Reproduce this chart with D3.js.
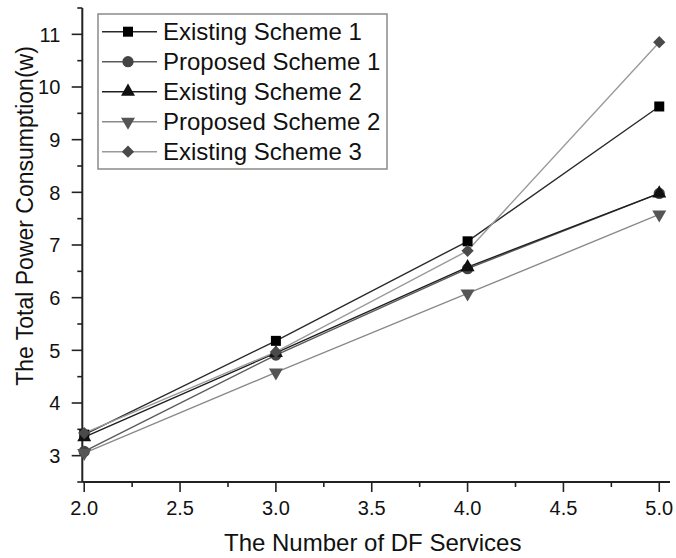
<!DOCTYPE html>
<html>
<head>
<meta charset="utf-8">
<script src="https://cdn.jsdelivr.net/npm/d3@7"></script>
<style>
  html, body { margin: 0; padding: 0; background: #fff; }
  svg { display: block; }
  text { font-family: "Liberation Sans", Arial, sans-serif; fill: #111; }
</style>
</head>
<body>
<svg id="chart" width="676" height="558"></svg>
<script>
// ---- data ----
const xValues = [2, 3, 4, 5];
const seriesNames = ["Existing Scheme 1", "Proposed Scheme 1", "Existing Scheme 2", "Proposed Scheme 2", "Existing Scheme 3"];
const existing1 = [3.40, 5.18, 7.07, 9.63];
const proposed1 = [3.08, 4.91, 6.55, 7.98];
const existing2 = [3.35, 4.95, 6.58, 7.98];
const proposed2 = [3.05, 4.58, 6.08, 7.58];
const existing3 = [3.43, 4.97, 6.89, 10.85];
const xTicks = [2.0, 2.5, 3.0, 3.5, 4.0, 4.5, 5.0];
const yTicks = [3, 4, 5, 6, 7, 8, 9, 10, 11];
const xTitle = "The Number of DF Services";
const yTitle = "The Total Power Consumption(w)";

// ---- styles ----
const styles = [
  { line: "#2a2a2a", fill: "#000000", shape: d3.symbolSquare, size: 100 },
  { line: "#5a5a5a", fill: "#444444", shape: d3.symbolCircle, size: 100 },
  { line: "#1e1e1e", fill: "#111111", shape: d3.symbolTriangle, size: 85 },
  { line: "#8a8a8a", fill: "#555555", shape: d3.symbolTriangle, size: 85, rotate: 180 },
  { line: "#9a9a9a", fill: "#4a4a4a", shape: d3.symbolSquare, size: 75, rotate: 45 }
];
const series = [existing1, proposed1, existing2, proposed2, existing3];

const svg = d3.select("#chart");
const x = d3.scaleLinear().domain([1.99, 5.056]).range([82.3, 670]);
const y = d3.scaleLinear().domain([2.5, 11.5]).range([482, 8]);

const axisColor = "#222";

// Axes
const xAxisG = svg.append("g").attr("transform", "translate(0,482)");
xAxisG.append("line").attr("x1", x.range()[0]).attr("x2", x.range()[1])
  .attr("stroke", axisColor).attr("stroke-width", 2);
const xMinor = d3.range(2.25, 5.0, 0.5);
xAxisG.selectAll(".xmin").data(xMinor).join("line")
  .attr("x1", d => x(d)).attr("x2", d => x(d)).attr("y1", 0).attr("y2", 5)
  .attr("stroke", axisColor).attr("stroke-width", 1.6);
xAxisG.selectAll(".xmaj").data(xTicks).join("line")
  .attr("x1", d => x(d)).attr("x2", d => x(d)).attr("y1", 0).attr("y2", 10)
  .attr("stroke", axisColor).attr("stroke-width", 1.6);
xAxisG.selectAll(".xlab").data(xTicks).join("text")
  .attr("x", d => x(d)).attr("y", 19).attr("dy", "0.71em")
  .attr("text-anchor", "middle").attr("font-size", 20)
  .text(d => d3.format(".1f")(d));

const yAxisG = svg.append("g").attr("transform", "translate(82.3,0)");
yAxisG.append("line").attr("y1", y.range()[0]).attr("y2", y.range()[1])
  .attr("stroke", axisColor).attr("stroke-width", 2);
const yMinor = d3.range(2.5, 11.6, 1);
yAxisG.selectAll(".ymin").data(yMinor).join("line")
  .attr("y1", d => y(d)).attr("y2", d => y(d)).attr("x1", 0).attr("x2", -5)
  .attr("stroke", axisColor).attr("stroke-width", 1.6);
yAxisG.selectAll(".ymaj").data(yTicks).join("line")
  .attr("y1", d => y(d)).attr("y2", d => y(d)).attr("x1", 0).attr("x2", -10.6)
  .attr("stroke", axisColor).attr("stroke-width", 1.6);
yAxisG.selectAll(".ylab").data(yTicks).join("text")
  .attr("x", -22).attr("y", d => y(d)).attr("dy", "0.36em")
  .attr("text-anchor", "end").attr("font-size", 20)
  .text(d => d);

// Titles
svg.append("text").attr("x", 372.7).attr("y", 551)
  .attr("text-anchor", "middle").attr("font-size", 24).text(xTitle);
svg.append("text")
  .attr("transform", "translate(33,216) rotate(-90)")
  .attr("text-anchor", "middle").attr("font-size", 23).text(yTitle);

// Lines and markers
const lineGen = d3.line().x((d, i) => x(xValues[i])).y(d => y(d));
series.forEach((vals, si) => {
  const st = styles[si];
  svg.append("path").datum(vals).attr("d", lineGen)
    .attr("fill", "none").attr("stroke", st.line).attr("stroke-width", 1.4);
});
series.forEach((vals, si) => {
  const st = styles[si];
  const sym = d3.symbol().type(st.shape).size(st.size);
  svg.selectAll(null).data(vals).join("path")
    .attr("d", sym)
    .attr("transform", (d, i) => `translate(${x(xValues[i])},${y(d)})` + (st.rotate ? ` rotate(${st.rotate})` : ""))
    .attr("fill", st.fill);
});

// Legend
const leg = svg.append("g");
leg.append("rect").attr("x", 98).attr("y", 14).attr("width", 289).attr("height", 155)
  .attr("fill", "#fff").attr("stroke", "#8a8a8a").attr("stroke-width", 1.5);
seriesNames.forEach((name, i) => {
  const st = styles[i];
  const cy = 31.7 + i * 30;
  leg.append("line").attr("x1", 102).attr("x2", 157).attr("y1", cy).attr("y2", cy)
    .attr("stroke", st.line).attr("stroke-width", 1.4);
  leg.append("path").attr("d", d3.symbol().type(st.shape).size(st.size))
    .attr("transform", `translate(128,${cy})` + (st.rotate ? ` rotate(${st.rotate})` : ""))
    .attr("fill", st.fill);
  leg.append("text").attr("x", 163).attr("y", cy).attr("dy", "0.36em")
    .attr("font-size", 24).text(name);
});
</script>
</body>
</html>
